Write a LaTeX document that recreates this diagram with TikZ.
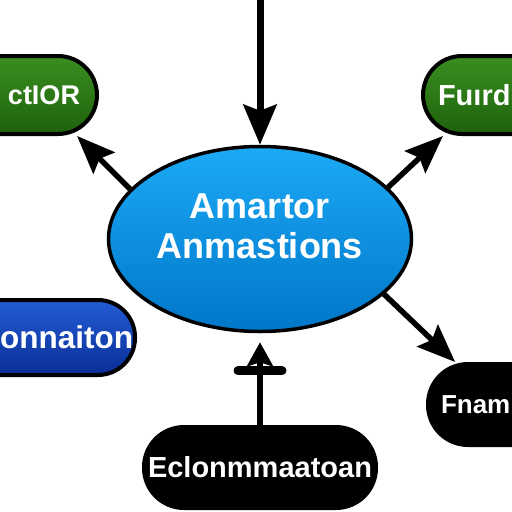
\documentclass[tikz,border=0pt]{standalone}
\usepackage{fontspec}
\setmainfont{Liberation Sans}
\usetikzlibrary{arrows.meta,shapes.geometric}
\definecolor{hubtop}{RGB}{28,170,246}
\definecolor{hubbot}{RGB}{0,118,200}
\definecolor{leaftop}{RGB}{58,142,32}
\definecolor{leafbot}{RGB}{30,98,12}
\definecolor{navytop}{RGB}{34,92,212}
\definecolor{navybot}{RGB}{10,46,150}
\begin{document}
\begin{tikzpicture}[
  x=1pt, y=-1pt,
  pill/.style={draw, line width=4pt, rounded corners=39pt, minimum height=78pt,
               inner xsep=0pt, text=white},
  hub/.style={ellipse, draw, line width=3.5pt, minimum width=303pt, minimum height=185pt,
              top color=hubtop, bottom color=hubbot},
  hubtext/.style={text=white, align=center, font=\bfseries\fontsize{36}{40}\selectfont},
  arr/.style={line width=5.5pt, -{Stealth[length=38pt,width=30pt,inset=6pt]}},
]
\useasboundingbox (0,0) rectangle (512,512);
\clip (0,0) rectangle (512,512);
\fill[white] (0,0) rectangle (512,512);

\node[hub, label={[hubtext, yshift=12.5pt]center:{Amartor\\Anmastions}}] (hub) at (260,239) {};

\node[pill, top color=leaftop, bottom color=leafbot, minimum width=157pt,
      text width=123pt, align=right,
      font=\bfseries\fontsize{27}{30}\selectfont] (action) at (18.5,95) {ctIOR};
\node[pill, top color=leaftop, bottom color=leafbot, minimum width=157pt,
      text width=127pt, align=left,
      font=\bfseries\fontsize{29}{32}\selectfont] (fund) at (501.5,95) {Fuırd};
\node[pill, top color=navytop, bottom color=navybot, minimum width=195pt,
      text width=191pt, align=right, minimum height=75pt, rounded corners=37pt,
      font=\bfseries\fontsize{31.5}{34}\selectfont] (info) at (37.5,337.5) {onnaiton};
\node[pill, fill=black, minimum width=152pt, text width=126pt, align=left,
      minimum height=81pt, rounded corners=40pt,
      font=\bfseries\fontsize{26}{30}\selectfont] (fin) at (504,404.5) {Fnam};
\node[pill, fill=black, minimum width=232pt, minimum height=81pt, rounded corners=40pt,
      font=\bfseries\fontsize{29}{32}\selectfont] (educ) at (260,467.5) {Eclonmmaatoan};

\coordinate (feed) at (260,-10);

\draw[arr, line width=7pt, -{Stealth[length=40pt,width=33pt,inset=6pt]}] (feed) -- (hub.north);
\draw[arr] (hub.159) -- (action.-35);
\draw[arr] (hub.22) -- (fund.215);
\draw[arr] (hub.-24) -- (fin.139);
\draw[arr, line width=6pt,
  -{Bar[width=44pt,line width=9pt,round] Stealth[length=24pt,width=26pt,inset=4pt,sep=9pt]}]
  (educ.north) -- (hub.south);

\end{tikzpicture}
\end{document}
